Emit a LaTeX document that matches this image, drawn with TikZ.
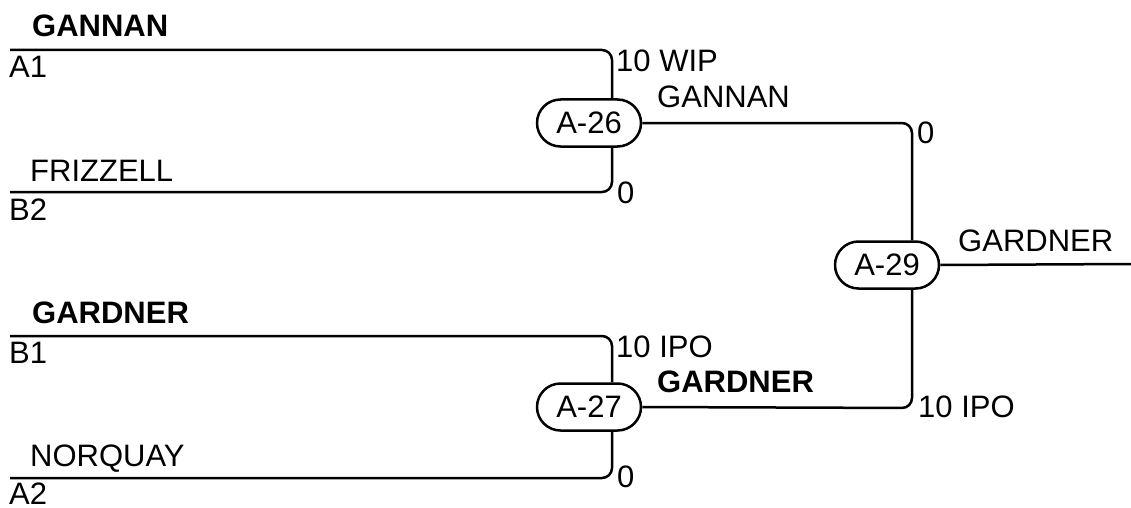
\documentclass[tikz,border=0pt]{standalone}
\usepackage{fontspec}
\setmainfont{Liberation Sans}
\usetikzlibrary{shapes.misc,calc}
\tikzset{
  match/.style={rounded rectangle, draw, line width=2.5pt, fill=white, minimum width=104pt, minimum height=47pt, inner sep=0pt, font=\fontsize{31}{36}\selectfont},
  wire/.style={line width=2.5pt, rounded corners=10pt},
  lbl/.style={anchor=base west, inner sep=0pt, font=\fontsize{31}{36}\selectfont},
  blbl/.style={lbl, font=\fontsize{31}{36}\selectfont\bfseries}
}
\begin{document}
\begin{tikzpicture}[x=1pt,y=-1pt]
\useasboundingbox (0,0) rectangle (1131,508);
\node[match] (a26) at (589,123) {A-26};
\node[match] (a27) at (589,407) {A-27};
\node[match] (a29) at (887,265) {A-29};
\coordinate (a1s) at (10,50);
\coordinate (b2s) at (10,192);
\coordinate (b1s) at (10,336);
\coordinate (a2s) at (10,478);
\coordinate (wout) at (1131,264);
\coordinate (k1) at (612,50);
\coordinate (k2) at (612,192);
\coordinate (k3) at (612,336);
\coordinate (k4) at (612,478);
\coordinate (k5) at (912,123);
\coordinate (k6) at (912,408);
\draw[wire] (a1s) -- (k1) -- ($(a26.north)+(23,0)$);
\draw[wire] (b2s) -- (k2) -- ($(a26.south)+(23,0)$);
\draw[wire] (b1s) -- (k3) -- ($(a27.north)+(23,0)$);
\draw[wire] (a2s) -- (k4) -- ($(a27.south)+(23,0)$);
\draw[wire] (a26.east) -- (k5) -- ($(a29.north)+(25,0)$);
\draw[wire] (a27.east) -- (k6) -- ($(a29.south)+(25,0)$);
\draw[wire] (a29.east) -- (wout);
% left labels
\node[blbl] (t1) at (32,37) {GANNAN};
\node[lbl] (t2) at (9,78) {A1};
\node[lbl] (t3) at (30,181) {FRIZZELL};
\node[lbl] (t4) at (9,220) {B2};
\node[blbl] (t5) at (32,323) {GARDNER};
\node[lbl] (t6) at (9,363) {B1};
\node[lbl] (t7) at (30,466) {NORQUAY};
\node[lbl] (t8) at (9,504) {A2};
% middle labels
\node[lbl] (s1) at (616,72) {10 WIP};
\node[lbl] (s2) at (657,108) {GANNAN};
\node[lbl] (s3) at (617,203) {0};
\node[lbl] (s4) at (616,357) {10 IPO};
\node[blbl] (s5) at (657,392) {GARDNER};
\node[lbl] (s6) at (617,487) {0};
% right labels
\node[lbl] (r1) at (917,143) {0};
\node[lbl] (r2) at (918,417) {10 IPO};
\node[lbl] (r3) at (958,251) {GARDNER};
\end{tikzpicture}
\end{document}
